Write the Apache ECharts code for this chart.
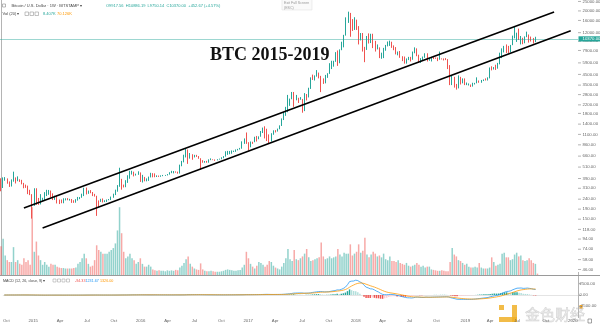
<!DOCTYPE html>
<html><head><meta charset="utf-8">
<script src="https://cdn.jsdelivr.net/npm/echarts@6/dist/echarts.min.js"></script>
<style>html,body{margin:0;padding:0;background:#fff}#c{width:600px;height:328px}</style>
</head><body><div id="c"></div>
<script>
// ---------- DATA (weekly BTC/USD, Bitstamp, weeks starting Monday) ----------
const firstWeek = '2014-09-29';
const weekCount = 278; // visible weekly slots incl. empty space on the right

const opens = [
 377,320,378,389,357,325,362,388,367,378,375,347,330,317,
 275,266,210,254,226,222,234,244,260,275,282,268,243,260,236,223,219,240,242,236,240,229,222,235,243,250,260,310,273,290,280,263,257,230,228,240,230,231,234,240,252,270,294,324,381,330,323,370,395,435,441,422,
 431,448,386,403,376,376,406,438,433,405,412,410,417,420,420,430,448,450,458,455,443,528,575,675,760,630,665,650,665,655,624,590,570,581,573,608,610,608,602,612,617,640,655,701,703,705,730,732,766,778,790,890,
 998,905,820,922,917,1015,998,1048,1170,1265,1230,1020,965,1100,1190,1180,1250,1350,1550,1760,2040,2180,2520,2950,2500,2550,2500,2500,1920,2740,2720,3230,4100,4080,4350,4600,4250,3700,3680,4400,4600,5700,6000,6150,7400,5900,8000,9300,11250,15200,19000,13900,
 13800,16200,13650,11500,11800,8200,8100,10400,9650,11500,9550,8200,8450,6850,7000,8350,8900,9400,9650,8700,8500,7350,7700,6750,6450,6150,6350,6750,6350,7400,8200,7050,6300,6400,6700,7300,6250,6500,6700,6600,6550,6400,6500,6450,6400,6350,5550,4000,4150,3600,3250,3950,3850,
 4050,3510,3540,3540,3420,3650,3670,3830,3800,3920,4000,3990,4100,5200,5150,5300,5250,5750,7000,8150,8750,8700,7650,8950,10750,10800,11450,10200,10550,9500,10800,11400,10300,10150,9620
];
const highs = [
 392,400,403,391,364,382,458,400,410,383,378,352,338,330,
 299,270,310,310,247,270,248,283,299,298,294,275,261,262,238,238,245,245,246,242,241,234,240,253,252,273,314,315,294,297,284,272,260,233,242,244,234,238,241,255,273,300,334,502,387,338,375,421,468,468,458,437,
 462,450,425,405,391,408,446,442,440,420,418,420,424,424,433,452,467,465,461,458,540,590,682,780,770,710,690,680,680,661,628,600,588,590,612,626,612,610,614,622,643,660,740,746,745,754,750,772,782,800,934,1000,
 1150,915,930,925,1040,1060,1050,1190,1290,1330,1255,1100,1130,1210,1215,1260,1360,1600,1860,2100,2780,2550,2980,2980,2780,2600,2640,2530,2900,2840,3290,4200,4480,4400,4980,4700,4350,4100,4450,4630,5860,6200,6200,7600,7900,8100,9700,11400,17200,19660,19100,16500,
 17250,16300,14000,11900,11900,8600,11100,11800,11700,11700,9900,9100,8500,7500,8400,9000,9750,9950,9700,8900,8550,7700,7800,6900,6850,6550,6800,6800,7700,8500,8300,7150,6600,6850,7400,7400,6600,6800,6800,6700,6700,7700,6550,6550,6600,6450,5600,4400,4250,3600,4400,4250,4100,
 4100,3720,3640,3550,3700,3690,4200,3900,3950,4000,4100,4200,5300,5450,5350,5650,5900,7500,8300,8800,9100,8800,9000,11200,13850,12000,13200,11100,10650,11000,12300,11500,10950,10600,10900
];
const lows = [
 289,312,370,345,320,323,362,347,366,360,340,310,313,270,
 264,152,205,210,210,212,229,235,258,266,250,235,236,217,214,218,218,233,234,232,220,220,221,232,240,248,258,268,272,276,258,255,162,199,225,222,224,225,234,235,248,264,286,321,300,316,318,352,388,428,410,418,
 425,360,355,365,365,369,400,401,402,404,405,406,412,415,419,427,442,440,447,437,438,520,570,640,550,622,606,640,648,620,480,565,565,565,565,600,600,591,597,608,613,628,652,680,690,698,727,730,755,770,785,880,
 880,750,812,880,915,930,980,1040,1135,1000,940,890,930,1090,1150,1175,1240,1340,1540,1700,1850,2150,2510,2100,2450,2300,2480,1830,1900,2440,2620,3200,3950,3900,4270,4100,2970,3600,3650,4150,4560,5100,5400,6050,5500,5850,7950,8500,11200,15100,10900,12500,
 12800,12800,9100,10000,7700,6000,8000,9300,9400,8350,7700,8100,6600,6500,6600,7850,8700,8800,8400,7950,7200,7050,6650,6150,5800,5800,6300,6100,6350,7400,6900,5900,5900,6300,6650,6100,6200,6100,6450,6500,6150,6350,6400,6250,6300,5100,3500,3500,3300,3150,3240,3550,3650,
 3500,3500,3470,3350,3380,3550,3650,3700,3700,3850,3900,3900,4100,4950,5050,5000,5150,5700,6600,7550,7450,7450,7550,8950,10500,9650,10100,9100,9150,9350,10800,9500,9750,9300,9600
];
const closes = [
 320,378,389,357,325,362,388,367,378,375,347,330,317,275,
 266,210,254,226,222,234,244,260,275,282,268,243,260,236,223,219,240,242,236,240,229,222,235,243,250,260,310,273,290,280,263,257,230,228,240,230,231,234,240,252,270,294,324,381,330,323,370,395,435,441,422,431,
 448,386,403,376,376,406,438,433,405,412,410,417,420,420,430,448,450,458,455,443,528,575,675,760,630,665,650,665,655,624,590,570,581,573,608,610,608,602,612,617,640,655,701,703,705,730,732,766,778,790,890,998,
 905,820,922,917,1015,998,1048,1170,1265,1230,1020,965,1100,1190,1180,1250,1350,1550,1760,2040,2180,2520,2950,2500,2550,2500,2500,1920,2740,2720,3230,4100,4080,4350,4600,4250,3700,3680,4400,4600,5700,6000,6150,7400,5900,8000,9300,11250,15200,19000,13900,13800,
 16200,13650,11500,11800,8200,8100,10400,9650,11500,9550,8200,8450,6850,7000,8350,8900,9400,9650,8700,8500,7350,7700,6750,6450,6150,6350,6750,6350,7400,8200,7050,6300,6400,6700,7300,6250,6500,6700,6600,6550,6400,6500,6450,6400,6350,5550,4000,4150,3600,3250,3950,3850,4050,
 3510,3540,3540,3420,3650,3670,3830,3800,3920,4000,3990,4100,5200,5150,5300,5250,5750,7000,8150,8750,8700,7650,8950,10750,10800,11450,10200,10550,9500,10800,11400,10300,10150,9620,10370
];
const volumes = [
 310,390,210,160,140,140,300,140,160,120,110,180,140,160,
 110,730,250,360,210,160,110,140,110,90,120,110,110,90,80,75,75,70,70,70,70,75,80,120,140,180,230,180,120,90,
 100,160,320,270,250,230,230,230,250,270,290,340,480,730,450,250,180,200,230,180,160,120,
 140,180,120,90,90,110,90,60,50,45,50,45,45,40,50,45,50,45,55,50,80,100,130,170,200,120,90,70,60,55,125,60,45,40,40,45,40,35,35,35,40,45,55,60,55,50,45,45,50,55,80,110,
 250,180,120,90,70,100,140,130,110,90,110,150,140,100,80,70,60,90,130,180,280,170,150,270,170,160,180,200,230,280,190,150,160,170,180,190,350,200,170,180,200,180,190,200,280,220,200,240,230,230,330,210,
 230,250,330,240,260,400,220,190,220,250,230,200,210,190,230,170,160,200,150,150,140,160,130,120,110,130,100,90,100,110,130,110,90,100,80,90,90,60,55,50,45,45,50,45,40,40,140,290,220,200,160,150,130,110,
 120,90,80,80,90,80,130,80,70,70,70,80,190,140,100,110,120,230,240,190,190,160,170,220,240,200,210,160,150,160,180,160,130,120,15
];
const priceTicks = [25000,20000,16000,12000,9800,7900,5900,4500,3500,2800,2200,1800,1400,1100,860,660,510,390,310,240,190,150,118,94,74,58,46];
const lastPrice = 10370;
const trendUpper = [['2014-12-15', 195], ['2019-11-04', 19500]];
const trendLower = [['2015-02-16', 122], ['2019-12-30', 12550]];
const monthNames = ['Jan','Feb','Mar','Apr','May','Jun','Jul','Aug','Sep','Oct','Nov','Dec'];

// ---------- BUILD ----------
const categories = [];
(function(){ const [y,m,d] = firstWeek.split('-').map(Number); const t0 = Date.UTC(y,m-1,d);
  for (let i=0;i<weekCount;i++) categories.push(new Date(t0 + i*7*86400000).toISOString().slice(0,10)); })();
function tickLabel(cat){ const m=+cat.slice(5,7)-1, day=+cat.slice(8,10);
  if (day<=7 && m%3===0) return m===0 ? cat.slice(0,4) : monthNames[m]; return null; }

const UP='#26a69a', DOWN='#ef5350';
const candleData = closes.map((c,i)=>[opens[i], c, lows[i], highs[i]]);
const volData = volumes.map((v,i)=>({value:v, itemStyle:{color: closes[i]>=opens[i] ? 'rgba(38,166,154,0.5)' : 'rgba(239,83,80,0.5)'}}));
function ema(arr,n){ const a=2/(n+1), out=[]; arr.forEach((v,i)=>out.push(i===0?v:a*v+(1-a)*out[i-1])); return out; }
const e12=ema(closes,12), e26=ema(closes,26);
const macd=e12.map((v,i)=>v-e26[i]);
const signal=ema(macd,9);
const hist=macd.map((v,i)=>v-signal[i]);
const histData=hist.map((h,i)=>{ const p=i>0?hist[i-1]:h; let col;
  if (h>=0) col = p<h ? '#26a69a' : '#b2dfdb'; else col = p<h ? '#ffcdd2' : '#ef5350';
  return {value:h, itemStyle:{color:col}}; });
const toIdx = d => categories.indexOf(d);
const lastX = weekCount - 0.5;
const FONT = 'Liberation Sans';

const chart = echarts.init(document.getElementById('c'), null, {renderer:'canvas'});
const hiddenCat = (g)=>({type:'category', gridIndex:g, data:categories, boundaryGap:true,
  axisLine:{show:false}, axisTick:{show:false}, axisLabel:{show:false}, splitLine:{show:false}});

chart.setOption({
  animation:false, backgroundColor:'#fff',
  grid:[
    {left:0, right:22, top:0, height:275},
    {left:0, right:22, top:197, height:78},
    {left:0, right:22, top:272.4, height:45.2}
  ],
  xAxis:[
    hiddenCat(0), hiddenCat(1),
    {type:'category', gridIndex:2, data:categories, boundaryGap:true,
     axisLine:{show:true, lineStyle:{color:'#e4e4e4'}}, axisTick:{show:false}, splitLine:{show:false},
     axisLabel:{interval:(i,v)=>!!tickLabel(v), formatter:v=>tickLabel(v)||'', fontSize:4.3, color:'#666', margin:1.6, fontFamily:FONT}},
    {type:'value', gridIndex:0, min:-0.5, max:weekCount-0.5, show:false}
  ],
  yAxis:[
    {type:'log', gridIndex:0, min:40.4, max:25860, position:'right',
     axisLine:{show:true, lineStyle:{color:'#b4b4b4'}}, axisTick:{show:false}, axisLabel:{show:false}, splitLine:{show:false}},
    {type:'value', gridIndex:1, min:0, max:840, show:false},
    {type:'value', gridIndex:2, min:-5000, max:5000, interval:2500, position:'right',
     axisLine:{show:true, lineStyle:{color:'#b4b4b4'}}, axisTick:{show:true, length:3, lineStyle:{color:'#b4b4b4'}},
     splitLine:{show:false},
     axisLabel:{showMinLabel:false, showMaxLabel:false, formatter:v=>v.toFixed(2), fontSize:4.3, color:'#666', margin:1.5, fontFamily:FONT}}
  ],
  series:[
    {type:'bar', name:'vol', xAxisIndex:1, yAxisIndex:1, data:volData, barWidth:'72%', z:1, silent:true},
    {type:'candlestick', xAxisIndex:0, yAxisIndex:0, data:candleData, barWidth:'62%', z:3,
     itemStyle:{color:UP, color0:DOWN, borderColor:UP, borderColor0:DOWN, borderWidth:1},
     markLine:{silent:true, symbol:'none', label:{show:false},
       lineStyle:{color:'rgba(38,166,154,0.45)', width:1, type:'solid'}, data:[{yAxis:lastPrice}]}},
    {type:'line', xAxisIndex:3, yAxisIndex:0, data:trendUpper.map(p=>[toIdx(p[0]), p[1]]), symbol:'none',
     lineStyle:{color:'#000', width:1.6}, z:5, silent:true},
    {type:'line', xAxisIndex:3, yAxisIndex:0, data:trendLower.map(p=>[toIdx(p[0]), p[1]]), symbol:'none',
     lineStyle:{color:'#000', width:1.6}, z:5, silent:true},
    {type:'bar', xAxisIndex:2, yAxisIndex:2, data:histData, barWidth:'70%', z:2},
    {type:'line', xAxisIndex:2, yAxisIndex:2, data:macd, symbol:'none', lineStyle:{color:'#2196f3', width:0.9, opacity:0.85}, z:3},
    {type:'line', xAxisIndex:2, yAxisIndex:2, data:signal, symbol:'none', lineStyle:{color:'#ff9800', width:0.9, opacity:0.85}, z:3},
    {type:'custom', xAxisIndex:3, yAxisIndex:0, clip:false, z:6, silent:true,
     data:priceTicks.map(v=>[lastX, v]),
     renderItem:(params, api)=>{ const p=api.coord([api.value(0), api.value(1)]);
       return {type:'group', children:[
         {type:'line', shape:{x1:p[0], y1:p[1], x2:p[0]+3, y2:p[1]}, style:{stroke:'#b4b4b4', lineWidth:1}},
         {type:'text', style:{text:api.value(1).toFixed(2), x:p[0]+4.5, y:p[1], verticalAlign:'middle', align:'left',
           fontSize:4.3, fontFamily:FONT, fill:'#666'}}]}; }},
    {type:'custom', xAxisIndex:3, yAxisIndex:0, clip:false, z:7, silent:true,
     data:[[lastX, lastPrice]],
     renderItem:(params, api)=>{ const p=api.coord([api.value(0), api.value(1)]);
       return {type:'group', children:[
         {type:'rect', shape:{x:p[0]+0.5, y:p[1]-2.6, width:22, height:5.2}, style:{fill:'#26a69a'}},
         {type:'text', style:{text:api.value(1).toFixed(2), x:p[0]+4.5, y:p[1], verticalAlign:'middle', align:'left',
           fontSize:4.3, fontFamily:FONT, fill:'#fff'}}]}; }}
  ],
  graphic:[
    {type:'line', shape:{x1:0, y1:275.5, x2:600, y2:275.5}, style:{stroke:'#9a9a9a', lineWidth:1}, z:10},
    // header
    {type:'rect', shape:{x:2.5, y:4, width:3, height:3}, style:{fill:'none', stroke:'#888', lineWidth:0.6}},
    {type:'text', style:{text:'Bitcoin / U.S. Dollar · 1W · BITSTAMP ▾', x:11.5, y:6, verticalAlign:'middle', fontSize:4, fontFamily:FONT, fill:'#444'}},
    {type:'text', style:{text:'O9917.56  H10886.19  L9750.14  C10370.00  +452.67 (+4.57%)', x:106, y:6, verticalAlign:'middle', fontSize:4, fontFamily:FONT, fill:'#26a69a'}},
    {type:'text', style:{text:'Vol (20) ▾', x:2.5, y:14, verticalAlign:'middle', fontSize:4, fontFamily:FONT, fill:'#444'}},
    {type:'rect', shape:{x:25, y:12, width:3.5, height:3.5}, style:{fill:'none', stroke:'#999', lineWidth:0.6}},
    {type:'rect', shape:{x:30, y:12, width:3.5, height:3.5}, style:{fill:'none', stroke:'#999', lineWidth:0.6}},
    {type:'rect', shape:{x:35, y:12, width:3.5, height:3.5}, style:{fill:'none', stroke:'#999', lineWidth:0.6}},
    {type:'text', style:{text:'8.407K', x:43, y:14, verticalAlign:'middle', fontSize:4, fontFamily:FONT, fill:'#26a69a'}},
    {type:'text', style:{text:'70.126K', x:57, y:14, verticalAlign:'middle', fontSize:4, fontFamily:FONT, fill:'#ff9800'}},
    // exit full screen tooltip
    {type:'rect', shape:{x:282, y:-1, width:30, height:11}, style:{fill:'#fafafa', stroke:'#e2e2e2', lineWidth:0.6}},
    {type:'text', style:{text:'Exit Full Screen', x:284, y:3, verticalAlign:'middle', fontSize:3.6, fontFamily:FONT, fill:'#999'}},
    {type:'text', style:{text:'(ESC)', x:284, y:7.5, verticalAlign:'middle', fontSize:3.6, fontFamily:FONT, fill:'#999'}},
    // title
    {type:'text', style:{text:'BTC 2015-2019', x:210, y:55, verticalAlign:'middle', fontSize:18, fontWeight:'bold', fontFamily:'Liberation Serif', fill:'#111'}, z:20},
    // MACD header
    {type:'text', style:{text:'MACD (12, 26, close, 9) ▾', x:3, y:280.5, verticalAlign:'middle', fontSize:3.7, fontFamily:FONT, fill:'#444'}},
    {type:'rect', shape:{x:53, y:279, width:3, height:3}, style:{fill:'none', stroke:'#999', lineWidth:0.5}},
    {type:'rect', shape:{x:57.5, y:279, width:3, height:3}, style:{fill:'none', stroke:'#999', lineWidth:0.5}},
    {type:'rect', shape:{x:62, y:279, width:3, height:3}, style:{fill:'none', stroke:'#999', lineWidth:0.5}},
    {type:'rect', shape:{x:66.5, y:279, width:3, height:3}, style:{fill:'none', stroke:'#999', lineWidth:0.5}},
    {type:'text', style:{text:'-94.33', x:75, y:280.5, verticalAlign:'middle', fontSize:3.7, fontFamily:FONT, fill:'#ef5350'}},
    {type:'text', style:{text:'1231.67', x:85.5, y:280.5, verticalAlign:'middle', fontSize:3.7, fontFamily:FONT, fill:'#2196f3'}},
    {type:'text', style:{text:'1326.00', x:100, y:280.5, verticalAlign:'middle', fontSize:3.7, fontFamily:FONT, fill:'#ff9800'}},
    // small tags on axis
    {type:'rect', shape:{x:579.5, y:305, width:3, height:4}, style:{fill:'#f5a623'}},
    {type:'rect', shape:{x:588, y:319, width:3.5, height:4}, style:{fill:'none', stroke:'#666', lineWidth:0.6}},
    // watermark
    {type:'group', z:30, children:[
      {type:'rect', shape:{x:499, y:305, width:5, height:5}, style:{fill:'rgba(240,176,40,0.85)'}},
      {type:'rect', shape:{x:512, y:305, width:5, height:17}, style:{fill:'rgba(240,176,40,0.85)'}},
      {type:'rect', shape:{x:499, y:317, width:18, height:5}, style:{fill:'rgba(240,176,40,0.85)'}},
      {type:'text', style:{text:'金色财经', x:525, y:314, verticalAlign:'middle', fontSize:15,
        fontFamily:'Noto Sans CJK SC', fill:'rgba(215,215,215,0.45)', stroke:'rgba(170,170,170,0.55)', lineWidth:0.5}}
    ]}
  ]
});
</script></body></html>
